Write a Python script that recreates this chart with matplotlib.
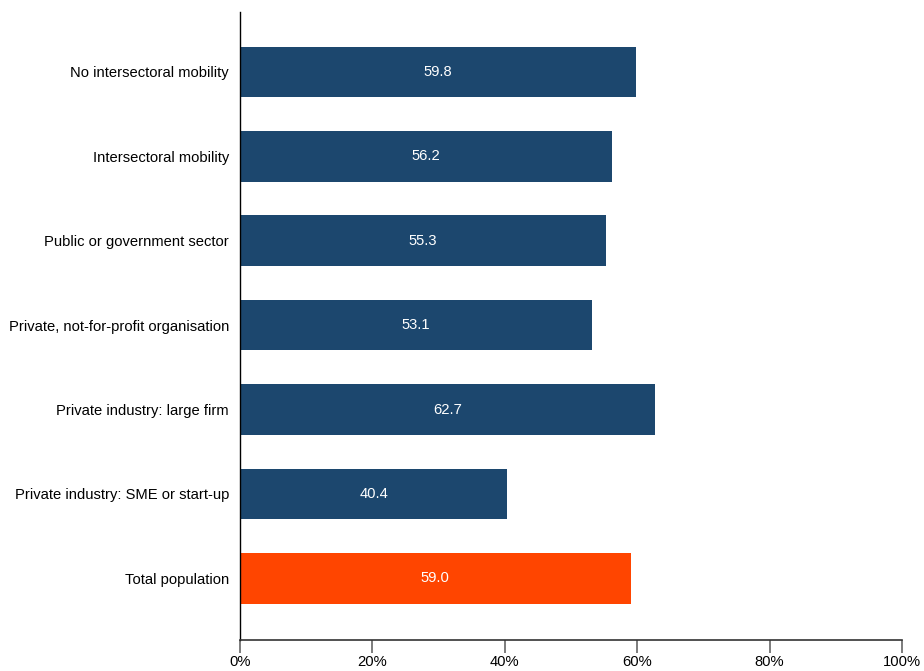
import matplotlib
matplotlib.use("Agg")
import matplotlib.pyplot as plt
from matplotlib.ticker import FuncFormatter

plt.rcParams['font.family'] = ['Liberation Sans', 'DejaVu Sans']

# data (bottom to top)
categories = [
    'Total population',
    'Private industry: SME or start-up',
    'Private industry: large firm',
    'Private, not-for-profit organisation',
    'Public or government sector',
    'Intersectoral mobility',
    'No intersectoral mobility',
]
values = [59.0, 40.4, 62.7, 53.1, 55.3, 56.2, 59.8]
bar_colors = ['#ff4500'] + ['#1c476e'] * 6

fig = plt.figure(figsize=(9.24, 6.71), dpi=100)
ax = fig.add_axes([240 / 924, 1 - 640 / 671, 662 / 924, 628 / 671])

ypos = list(range(len(categories)))
bars = ax.barh(ypos, values, height=0.6, color=bar_colors)

# value labels in the middle of each bar
for b, v in zip(bars, values):
    ax.text(b.get_width() / 2, b.get_y() + b.get_height() / 2, f"{v:.1f}",
            ha='center', va='center', color='white', fontsize=10.6)

ax.set_yticks(ypos)
ax.set_yticklabels(categories, fontsize=10.6)
ax.tick_params(axis='y', length=0, pad=8)

ax.set_xlim(0, 100)
ax.set_ylim(-0.73, 6.71)
ax.set_xticks([0, 20, 40, 60, 80, 100])
ax.xaxis.set_major_formatter(FuncFormatter(lambda x, _: f"{x:.0f}%"))
ax.tick_params(axis='x', length=9, width=1.2, color='#666666', labelsize=10.6, pad=2)

for s in ['top', 'right']:
    ax.spines[s].set_visible(False)
ax.spines['left'].set_color('#000000')
ax.spines['bottom'].set_color('#333333')
ax.spines['left'].set_linewidth(1.0)
ax.spines['bottom'].set_linewidth(1.2)

fig.savefig('out.png', dpi=100)
